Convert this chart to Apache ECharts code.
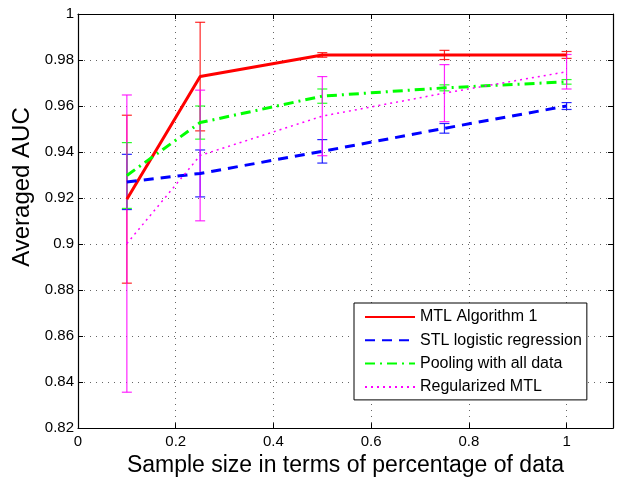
<!DOCTYPE html>
<html>
<head>
<meta charset="utf-8">
<script src="https://cdn.jsdelivr.net/npm/echarts@6/dist/echarts.min.js"></script>
<style>
  html, body { margin: 0; padding: 0; background: #fff; }
  #chart { width: 618px; height: 482px; }
</style>
</head>
<body>
<div id="chart"></div>
<script>
// sample sizes (fraction of data)
const sampleSizes = [0.1, 0.25, 0.5, 0.75, 1.0]

// averaged AUC and error half-widths
const mtlAuc = [0.9195, 0.9728, 0.9822, 0.9822, 0.9822]
const mtlErr = [0.0365, 0.0236, 0.0010, 0.0020, 0.0015]
const stlAuc = [0.9270, 0.9307, 0.9403, 0.9503, 0.9600]
const stlErr = [0.0120, 0.0102, 0.0051, 0.0021, 0.0015]
const poolAuc = [0.9298, 0.9528, 0.9643, 0.9679, 0.9705]
const poolErr = [0.0143, 0.0072, 0.0031, 0.0013, 0.0010]
const regAuc = [0.9002, 0.9385, 0.9556, 0.9656, 0.9749]
const regErr = [0.0646, 0.0284, 0.0172, 0.0124, 0.0075]

const xTicks = ['0', '0.2', '0.4', '0.6', '0.8', '1']
const legendNames = ['MTL Algorithm 1', 'STL logistic regression', 'Pooling with all data', 'Regularized MTL']

const font = 'Liberation Sans, Arial, sans-serif'

function lineSeries(name, values, color, width, dash) {
    return {
        name: name,
        type: 'line',
        data: sampleSizes.map((x, i) => [x, values[i]]),
        symbol: 'none',
        lineStyle: { color: color, width: width, type: dash },
        itemStyle: { color: color },
        z: 3
    }
}

// vertical bar with small caps
function errorSeries(name, values, errs, color) {
    return {
        name: name + ' err',
        type: 'custom',
        data: sampleSizes.map((x, i) => [x, values[i] - errs[i], values[i] + errs[i]]),
        encode: { x: 0, y: [1, 2] },
        z: 3,
        renderItem: function (params, api) {
            const x = api.value(0)
            const lo = api.coord([x, api.value(1)])
            const hi = api.coord([x, api.value(2)])
            const hw = 5
            const style = { stroke: color, lineWidth: 1.2, opacity: 0.85 }
            return {
                type: 'group',
                children: [
                    { type: 'line', shape: { x1: lo[0], y1: lo[1], x2: hi[0], y2: hi[1] }, style: style },
                    { type: 'line', shape: { x1: lo[0] - hw, y1: lo[1], x2: lo[0] + hw, y2: lo[1] }, style: style },
                    { type: 'line', shape: { x1: hi[0] - hw, y1: hi[1], x2: hi[0] + hw, y2: hi[1] }, style: style }
                ]
            }
        }
    }
}

const chart = echarts.init(document.getElementById('chart'))

const tick = { show: true, inside: true, length: 5, lineStyle: { color: '#000' } }
const dotted = { show: true, lineStyle: { color: '#666', type: [1, 5], width: 1 } }

const option = {
    animation: false,
    backgroundColor: '#fff',
    textStyle: { fontFamily: font },
    grid: { left: 78, right: 5, top: 14, bottom: 48 },
    legend: {
        data: legendNames,
        orient: 'vertical',
        left: 354,
        top: 303,
        padding: [6, 5, 5, 10],
        itemWidth: 50,
        itemHeight: 16,
        itemGap: 7.3,
        itemStyle: { opacity: 0 },
        backgroundColor: '#fff',
        borderColor: '#000',
        borderWidth: 1,
        textStyle: { fontSize: 16, color: '#000', fontFamily: font }
    },
    xAxis: [{
        type: 'value',
        min: 0,
        max: 1.095,
        interval: 0.2,
        name: 'Sample size in terms of percentage of data',
        nameLocation: 'middle',
        nameGap: 21,
        nameTextStyle: { fontSize: 23, color: '#000', fontFamily: font },
        axisLine: { show: true, onZero: false, lineStyle: { color: '#000', width: 1.2 } },
        axisTick: tick,
        axisLabel: {
            color: '#000', fontSize: 15, margin: 6, showMaxLabel: false,
            formatter: v => xTicks[Math.round(v / 0.2)] || ''
        },
        splitLine: dotted
    }, {
        type: 'value',
        position: 'top',
        min: 0,
        max: 1.095,
        interval: 0.2,
        axisLine: { show: true, onZero: false, lineStyle: { color: '#000', width: 1.2 } },
        axisTick: tick,
        axisLabel: { show: false },
        splitLine: { show: false }
    }],
    yAxis: [{
        type: 'value',
        min: 0.82,
        max: 1,
        interval: 0.02,
        name: 'Averaged AUC',
        nameLocation: 'middle',
        nameGap: 40,
        nameTextStyle: { fontSize: 24, color: '#000', fontFamily: font, padding: [0, 0, 0, 68] },
        axisLine: { show: true, onZero: false, lineStyle: { color: '#000', width: 1.2 } },
        axisTick: tick,
        axisLabel: { color: '#000', fontSize: 15, margin: 4 },
        splitLine: dotted
    }, {
        type: 'value',
        position: 'right',
        min: 0.82,
        max: 1,
        interval: 0.02,
        axisLine: { show: true, onZero: false, lineStyle: { color: '#000', width: 1.2 } },
        axisTick: tick,
        axisLabel: { show: false },
        splitLine: { show: false }
    }],
    series: [
        errorSeries('mtl', mtlAuc, mtlErr, '#ff0000'),
        lineSeries(legendNames[0], mtlAuc, '#ff0000', 3, 'solid'),
        errorSeries('stl', stlAuc, stlErr, '#0000ff'),
        lineSeries(legendNames[1], stlAuc, '#0000ff', 3, [10, 7]),
        errorSeries('pool', poolAuc, poolErr, '#00ff00'),
        lineSeries(legendNames[2], poolAuc, '#00ff00', 3, [10, 5, 2, 5]),
        errorSeries('reg', regAuc, regErr, '#ff00ff'),
        lineSeries(legendNames[3], regAuc, '#ff00ff', 1.5, [2, 4])
    ]
}

chart.setOption(option)
</script>
</body>
</html>
